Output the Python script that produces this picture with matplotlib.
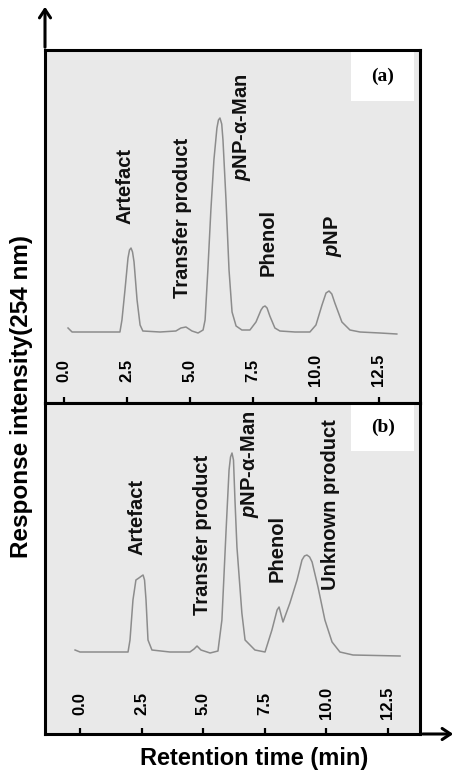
import matplotlib
matplotlib.use("Agg")
import matplotlib.pyplot as plt
import matplotlib.transforms as mtransforms

plt.rcParams['font.family'] = ['Liberation Sans', 'DejaVu Sans']
plt.rcParams['mathtext.fontset'] = 'custom'
plt.rcParams['mathtext.it'] = 'Liberation Sans:italic:bold'
plt.rcParams['mathtext.rm'] = 'Liberation Sans:bold'

# chromatogram (a): retention time (min) vs detector response
time_a = [0.16, 0.32, 1.43, 2.22, 2.30, 2.42, 2.54, 2.60, 2.66, 2.72, 2.78, 2.90,
          3.02, 3.13, 3.81, 4.44, 4.64, 4.84, 5.08, 5.32, 5.52, 5.60, 5.71, 5.83,
          5.95, 6.07, 6.13, 6.19, 6.26, 6.31, 6.43, 6.55, 6.67, 6.83, 7.06, 7.38,
          7.62, 7.82, 7.90, 7.98, 8.06, 8.17, 8.37, 8.57, 9.17, 9.76, 10.0, 10.24,
          10.40, 10.52, 10.63, 10.75, 11.03, 11.35, 11.75, 12.54, 13.21]
resp_a = [4, 0, 0, 0, 12, 42, 74, 82, 84, 80, 70, 32,
          7, 1, 0, 1, 4, 5, 1, -1, 2, 12, 62, 122,
          172, 204, 212, 214, 208, 192, 132, 62, 20, 6, 2, 2,
          10, 22, 25, 26, 24, 16, 4, 1, 0, 0, 7, 27,
          39, 41, 38, 29, 10, 2, 0, -1, -2]

# chromatogram (b)
time_b = [-0.20, 0.0, 0.81, 1.95, 2.03, 2.15, 2.27, 2.39, 2.50, 2.56, 2.62, 2.68,
          2.76, 2.92, 3.65, 4.46, 4.63, 4.75, 4.91, 5.28, 5.60, 5.76, 5.93, 6.05,
          6.11, 6.17, 6.23, 6.29, 6.37, 6.57, 6.70, 7.10, 7.51, 7.79, 8.00, 8.08,
          8.24, 8.52, 8.81, 9.01, 9.11, 9.21, 9.32, 9.42, 9.66, 9.94, 10.23, 10.55,
          11.08, 12.99]
resp_b = [2, 0, 0, 0, 12, 52, 72, 74, 76, 77, 72, 52,
          12, 2, 0, 0, 3, 6, 2, -1, 1, 32, 122, 182,
          195, 199, 192, 152, 105, 39, 12, 2, 0, 22, 42, 45,
          30, 49, 72, 92, 96, 97, 95, 90, 65, 32, 10, 0,
          -3, -4]

ticks = [0.0, 2.5, 5.0, 7.5, 10.0, 12.5]

man_label = r"$\mathit{p}$NP-α-Man"
pnp_label = r"$\mathit{p}$NP"

# peak labels: (text, time, response)
labels_a = [("Artefact", 2.42, 146), ("Transfer product", 4.72, 114),
            (man_label, 7.06, 205), ("Phenol", 8.10, 89), (pnp_label, 10.67, 96)]
labels_b = [("Artefact", 2.31, 135), ("Transfer product", 4.99, 117),
            (man_label, 6.90, 188), ("Phenol", 8.00, 104),
            ("Unknown product", 10.15, 147)]

W, H = 457, 773
fig = plt.figure(figsize=(W / 100, H / 100), dpi=100)

panels = [
    dict(rect=[45 / W, 1 - 403 / H, 375 / W, 353 / H], t=time_a, r=resp_a,
         xlim=(-0.754, 14.13), ylim=(-71, 282), labels=labels_a, tag="(a)"),
    dict(rect=[45 / W, 1 - 734 / H, 375 / W, 331 / H], t=time_b, r=resp_b,
         xlim=(-1.42, 13.80), ylim=(-82, 249), labels=labels_b, tag="(b)"),
]

for p in panels:
    ax = fig.add_axes(p['rect'])
    ax.set_facecolor('#e9e9e9')
    ax.plot(p['t'], p['r'], color='#8c8c8c', lw=1.1)
    ax.set_xlim(*p['xlim'])
    ax.set_ylim(*p['ylim'])
    for s in ax.spines.values():
        s.set_linewidth(2.2)
        s.set_color('black')
    ax.set_yticks([])
    ax.set_xticks(ticks)
    ax.tick_params(axis='x', direction='in', length=4, width=1.6,
                   labelbottom=False)
    # tick labels sit inside the frame, rotated
    trans = mtransforms.blended_transform_factory(ax.transData, ax.transAxes)
    for tv in ticks:
        ax.text(tv, 0.093, f"{tv:.1f}", transform=trans, rotation=90,
                ha='center', va='center', fontsize=12, fontweight='bold')
    for txt, tx, ty in p['labels']:
        ax.text(tx, ty, txt, rotation=90, ha='center', va='center',
                fontsize=14.5, fontweight='bold', color='#111111')
    # white tag box in the upper right corner
    ax.add_patch(matplotlib.patches.Rectangle(
        (0.817, 0.855), 0.168, 0.14, transform=ax.transAxes,
        facecolor='white', edgecolor='none'))
    ax.text(0.901, 0.925, p['tag'], transform=ax.transAxes, ha='center',
            va='center', fontsize=14, fontweight='bold',
            family=['Liberation Serif', 'DejaVu Serif'])

# axis arrows
x_left = 45 / W
fig.add_artist(matplotlib.patches.FancyArrowPatch(
    (x_left, 1 - 50 / H), (x_left, 1 - 4 / H), transform=fig.transFigure,
    arrowstyle='->,head_length=6,head_width=4', lw=2.2, color='black'))
fig.add_artist(matplotlib.patches.FancyArrowPatch(
    (420 / W, 1 - 734 / H), (456 / W, 1 - 734 / H), transform=fig.transFigure,
    arrowstyle='->,head_length=6,head_width=4', lw=2.2, color='black'))

fig.text(22 / W, 1 - 396 / H, "Response intensity(254 nm)", rotation=90,
         ha='center', va='center', fontsize=17.5, fontweight='bold')
fig.text(254 / W, 1 - 758 / H, "Retention time (min)", ha='center',
         va='center', fontsize=17, fontweight='bold')

fig.savefig("out.png", dpi=100)
